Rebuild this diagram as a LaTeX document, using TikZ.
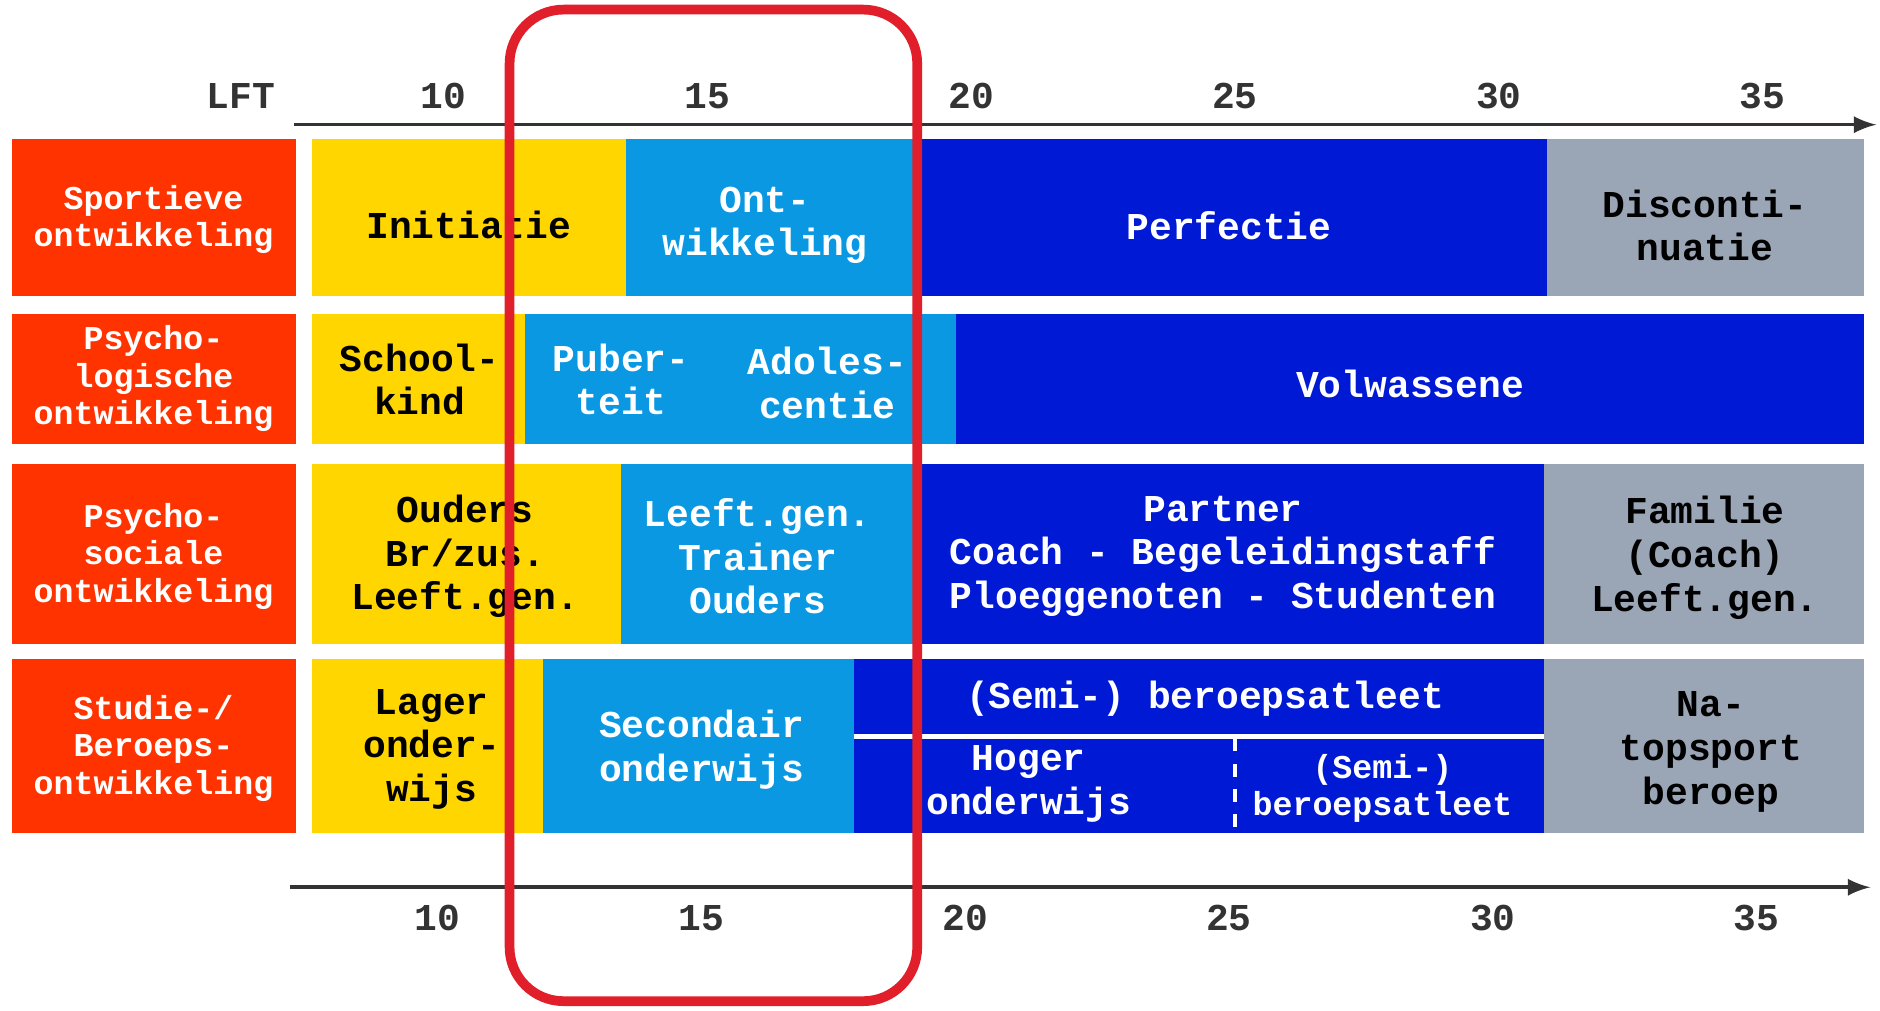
\documentclass[tikz,border=0pt]{standalone}
\usepackage{fontspec}
\usepackage{tikz}
\newfontfamily\cour{Liberation Mono}
\definecolor{labelred}{HTML}{FF3300}
\definecolor{phaseyellow}{HTML}{FFD600}
\definecolor{lightblue}{HTML}{0A98E2}
\definecolor{darkblue}{HTML}{0019D4}
\definecolor{phasegrey}{HTML}{9AA5B5}
\definecolor{framered}{HTML}{E01F2A}
\definecolor{axisgrey}{HTML}{333333}
\tikzset{
  txt/.style={font=\cour\bfseries\fontsize{9}{10.4}\selectfont, align=center, inner sep=0pt},
  wtxt/.style={txt, text=white},
  lbl/.style={font=\cour\bfseries\fontsize{7.9}{8.9}\selectfont, align=center, inner sep=0pt, text=white},
  axis/.style={line width=0.85pt, draw=axisgrey, -latex},
  axnum/.style={font=\cour\bfseries\fontsize{9}{10}\selectfont, text=axisgrey, inner sep=0pt},
  frame/.style={draw=framered, line width=2.3pt, rounded corners=0.45cm}
}

\begin{document}
\begin{tikzpicture}[x=1cm, y=-1cm]
\useasboundingbox (0,0) rectangle (15.68,8.43);

% axes
\coordinate (topstart) at (2.45,1.04);
\coordinate (topend) at (15.65,1.04);
\coordinate (botstart) at (2.42,7.40);
\coordinate (botend) at (15.60,7.40);
\draw[axis] (topstart) -- (topend);
\draw[axis] (botstart) -- (botend);
\node[axnum, anchor=east] (lft) at (2.30,0.80) {LFT};
\foreach \a in {10,15,20,25,30,35}{
  \node[axnum] (top\a) at ({-0.70+0.44*\a},0.80) {\a};
  \node[axnum] (bot\a) at ({-0.75+0.44*\a},7.66) {\a};
}

% row 1
\fill[labelred] (0.10,1.16) rectangle (2.47,2.47);
\fill[phaseyellow] (2.60,1.16) rectangle (5.22,2.47);
\fill[lightblue] (5.22,1.16) rectangle (7.63,2.47);
\fill[darkblue] (7.63,1.16) rectangle (12.90,2.47);
\fill[phasegrey] (12.90,1.16) rectangle (15.55,2.47);
\node[lbl] (sport) at (1.28,1.83) {Sportieve\\ontwikkeling};
\node[txt] (initiatie) at (3.91,1.88) {Initiatie};
\node[wtxt] (ontw) at (6.38,1.88) {Ont-\\wikkeling};
\node[wtxt] (perfectie) at (10.25,1.88) {Perfectie};
\node[txt] (discont) at (14.22,1.88) {Disconti-\\nuatie};

% row 2
\fill[labelred] (0.10,2.62) rectangle (2.47,3.70);
\fill[phaseyellow] (2.60,2.62) rectangle (4.38,3.70);
\fill[lightblue] (4.38,2.62) rectangle (7.97,3.70);
\fill[darkblue] (7.97,2.62) rectangle (15.55,3.70);
\node[lbl] (psylog) at (1.28,3.16) {Psycho-\\logische\\ontwikkeling};
\node[txt] (schoolkind) at (3.50,3.165) {School-\\kind};
\node[wtxt] (puberteit) at (5.18,3.165) {Puber-\\teit};
\node[wtxt] (adolescentie) at (6.90,3.195) {Adoles-\\centie};
\node[wtxt] (volwassene) at (11.76,3.20) {Volwassene};

% row 3
\fill[labelred] (0.10,3.87) rectangle (2.47,5.37);
\fill[phaseyellow] (2.60,3.87) rectangle (5.18,5.37);
\fill[lightblue] (5.18,3.87) rectangle (7.63,5.37);
\fill[darkblue] (7.63,3.87) rectangle (12.88,5.37);
\fill[phasegrey] (12.88,3.87) rectangle (15.55,5.37);
\node[lbl] (psysoc) at (1.28,4.64) {Psycho-\\sociale\\ontwikkeling};
\node[txt] (ouders) at (3.88,4.64) {Ouders\\Br/zus.\\Leeft.gen.};
\node[wtxt] (trainer) at (6.32,4.64) {Leeft.gen.\\Trainer\\Ouders};
\node[wtxt] (partner) at (10.20,4.64) {Partner\\Coach - Begeleidingstaff\\Ploeggenoten - Studenten};
\node[txt] (familie) at (14.22,4.65) {Familie\\(Coach)\\Leeft.gen.};

% row 4
\fill[labelred] (0.10,5.50) rectangle (2.47,6.95);
\fill[phaseyellow] (2.60,5.50) rectangle (4.53,6.95);
\fill[lightblue] (4.53,5.50) rectangle (7.12,6.95);
\fill[darkblue] (7.12,5.50) rectangle (12.88,6.12);
\fill[darkblue] (7.12,6.16) rectangle (12.88,6.95);
\fill[phasegrey] (12.88,5.50) rectangle (15.55,6.95);
\draw[white, line width=1pt, dashed] (10.30,6.16) -- (10.30,6.95);
\node[lbl] (studie) at (1.28,6.24) {Studie-/\\Beroeps-\\ontwikkeling};
\node[txt] (lager) at (3.60,6.25) {Lager\\onder-\\wijs};
\node[wtxt] (secondair) at (5.85,6.255) {Secondair\\onderwijs};
\node[wtxt] (semiboven) at (10.05,5.83) {(Semi-) beroepsatleet};
\node[wtxt] (hoger) at (8.58,6.54) {Hoger\\onderwijs};
\node[lbl] (semionder) at (11.53,6.575) {(Semi-)\\beroepsatleet};
\node[txt] (natopsport) at (14.27,6.27) {Na-\\topsport\\beroep};

% highlight
\draw[frame] (4.25,0.08) rectangle (7.65,8.35);
\end{tikzpicture}
\end{document}
